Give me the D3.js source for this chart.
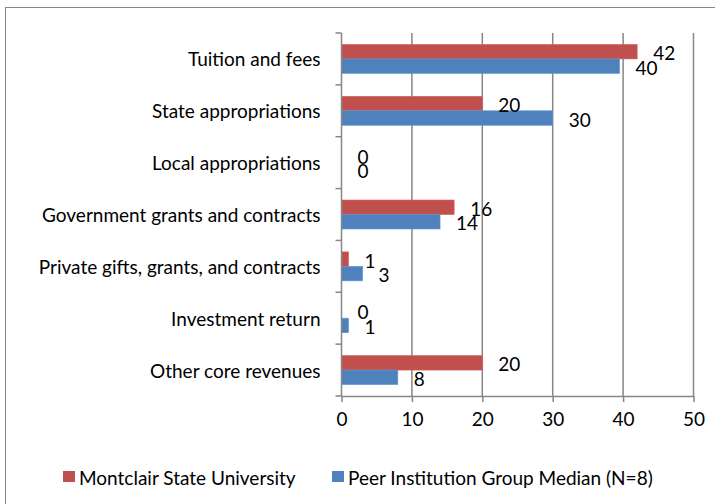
<!DOCTYPE html>
<html>
<head>
<meta charset="utf-8">
<script src="https://cdn.jsdelivr.net/npm/d3@7"></script>
<style>
  body { margin: 0; background: #fff; }
  svg text { font-family: Lato, "Open Sans", sans-serif; fill: #000; }
</style>
</head>
<body>
<svg id="chart" width="715" height="504"></svg>
<script>
var width = 715,
    height = 504;

const categories = [
    "Tuition and fees",
    "State appropriations",
    "Local appropriations",
    "Government grants and contracts",
    "Private gifts, grants, and contracts",
    "Investment return",
    "Other core revenues"
];
const series = ["Montclair State University", "Peer Institution Group Median (N=8)"];
const montclair = [42, 20, 0, 16, 1, 0, 20];
const peer = [39.5, 30, 0, 14, 3, 1, 8];
const x_ticks = [0, 10, 20, 30, 40, 50];
const colors = ["#C0504D", "#4F81BD"];

const font_size = 19;
const plot = { left: 341.5, right: 693.5, top: 33, bottom: 396 };

var svg = d3.select("#chart");

// Outer chart border (cropped at right and bottom like the original)
svg.append("rect")
    .attr("x", 5.5)
    .attr("y", 7.5)
    .attr("width", 760)
    .attr("height", 560)
    .attr("fill", "none")
    .attr("stroke", "#868686");

var x = d3.scaleLinear().domain([0, 50]).range([plot.left, plot.right]);
var y0 = d3.scaleBand().domain(categories).range([plot.top, plot.bottom]);
var y1 = d3.scaleBand().domain(series).range([0, y0.bandwidth()]).paddingOuter(0.79);

// Gridlines
svg.append("g")
    .selectAll("line")
    .data(x_ticks.slice(1))
    .join("line")
    .attr("x1", function (d) { return x(d); })
    .attr("x2", function (d) { return x(d); })
    .attr("y1", plot.top)
    .attr("y2", plot.bottom)
    .attr("stroke", "#868686")
    .attr("stroke-width", 1.5);

// Bars
var rows = categories.map(function (c, i) {
    return { category: c, values: [montclair[i], peer[i]] };
});

var groups = svg.append("g")
    .selectAll("g")
    .data(rows)
    .join("g")
    .attr("transform", function (d) { return "translate(0," + y0(d.category) + ")"; });

function barData(d) {
    return d.values.map(function (v, j) { return { series: series[j], value: v, index: j }; });
}

groups.selectAll("rect")
    .data(barData)
    .join("rect")
    .attr("x", x(0))
    .attr("y", function (d) { return y1(d.series); })
    .attr("width", function (d) { return x(d.value) - x(0); })
    .attr("height", y1.bandwidth())
    .attr("fill", function (d) { return colors[d.index]; })
    .attr("stroke", function (d) { return d.value > 0 ? d3.color(colors[d.index]).brighter(0.4) : "none"; })
    .attr("stroke-width", 0.6);

// Data labels
groups.selectAll("text")
    .data(barData)
    .join("text")
    .attr("x", function (d) { return x(d.value) + 16; })
    .attr("y", function (d) { return y1(d.series) + y1.bandwidth() / 2 + 1; })
    .attr("dominant-baseline", "central")
    .style("font-size", font_size + "px")
    .text(function (d) { return d3.format(".0f")(d.value); });

// Y axis
var y_axis = svg.append("g");
y_axis.append("line")
    .attr("x1", plot.left).attr("x2", plot.left)
    .attr("y1", plot.top).attr("y2", plot.bottom)
    .attr("stroke", "#868686").attr("stroke-width", 1.5);
y_axis.selectAll(".tick")
    .data(d3.range(categories.length + 1))
    .join("line")
    .attr("class", "tick")
    .attr("x1", plot.left - 6).attr("x2", plot.left)
    .attr("y1", function (i) { return plot.top + i * y0.step(); })
    .attr("y2", function (i) { return plot.top + i * y0.step(); })
    .attr("stroke", "#868686").attr("stroke-width", 1.5);
y_axis.selectAll("text")
    .data(categories)
    .join("text")
    .attr("x", plot.left - 21)
    .attr("y", function (d) { return y0(d) + y0.bandwidth() / 2; })
    .attr("text-anchor", "end")
    .attr("dominant-baseline", "central")
    .style("font-size", font_size + "px")
    .text(function (d) { return d; });

// X axis
var x_axis = svg.append("g")
    .attr("transform", "translate(0," + plot.bottom + ")")
    .call(d3.axisBottom(x).tickValues(x_ticks).tickSize(6).tickSizeOuter(0).tickPadding(11));
x_axis.select(".domain").attr("stroke", "#868686").attr("stroke-width", 1.5);
x_axis.selectAll(".tick line").attr("stroke", "#868686").attr("stroke-width", 1.5);
x_axis.selectAll(".tick text")
    .style("font-size", font_size + "px")
    .style("font-family", "Lato, sans-serif")
    .attr("fill", "#000");

// Legend
var legend_x = [63, 332];
var legend = svg.append("g")
    .selectAll("g")
    .data(series)
    .join("g")
    .attr("transform", function (d, i) { return "translate(" + legend_x[i] + ",477)"; });
legend.append("rect")
    .attr("x", 0).attr("y", -6)
    .attr("width", 12).attr("height", 11)
    .attr("fill", function (d, i) { return colors[i]; });
legend.append("text")
    .attr("x", 16)
    .attr("y", 0)
    .attr("dominant-baseline", "central")
    .style("font-size", font_size + "px")
    .text(function (d) { return d; });
</script>
</body>
</html>
